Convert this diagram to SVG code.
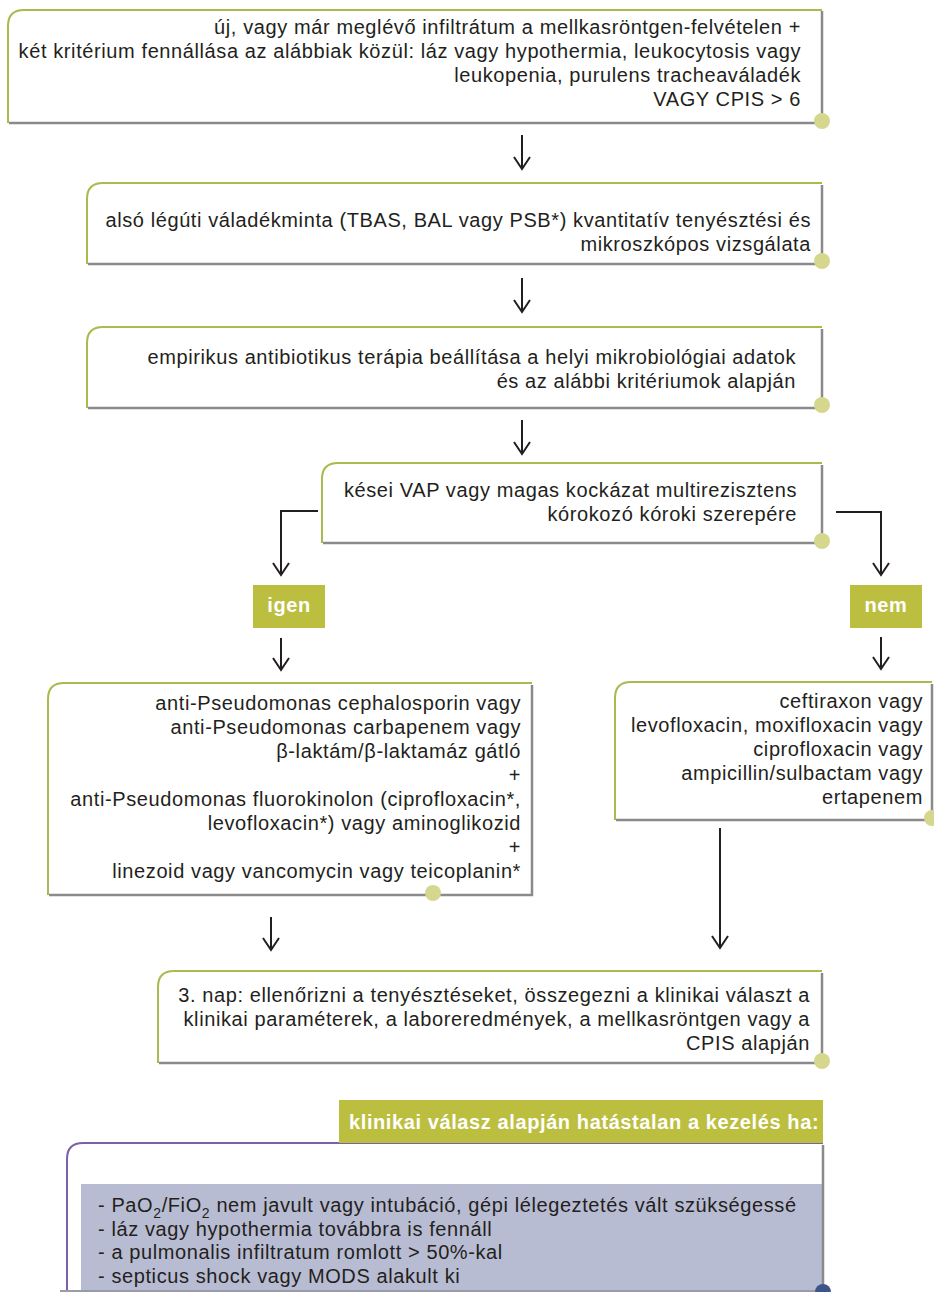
<svg xmlns="http://www.w3.org/2000/svg" width="934" height="1292" viewBox="0 0 934 1292">
<defs>
<style>
.g{fill:none;stroke:#a9bb4e;stroke-width:2}
.p{fill:none;stroke:#7d5fa8;stroke-width:2}
.s{fill:none;stroke:#8a8a8a;stroke-width:2.5}
.dot{fill:#d6d78f}
.t{font-family:"Liberation Sans",Arial,sans-serif;font-size:20px;letter-spacing:0.6px;fill:#231f20;text-anchor:end}
.tl{font-family:"Liberation Sans",Arial,sans-serif;font-size:20px;letter-spacing:0.6px;fill:#231f20}
.lab{fill:#bcbe40}
.lt{font-family:"Liberation Sans",Arial,sans-serif;font-size:20px;font-weight:bold;fill:#fff;letter-spacing:0.6px}
.c{fill:none;stroke:#231f20;stroke-width:2}
</style>
<marker id="ah" markerUnits="userSpaceOnUse" markerWidth="20" markerHeight="20" refX="0" refY="0" viewBox="-14 -10 16 20" orient="auto" overflow="visible">
<path d="M-12,-8 L0,0 L-12,8" fill="none" stroke="#231f20" stroke-width="2"/>
</marker>
</defs>
<rect width="934" height="1292" fill="#fff"/>

<g id="connectors">
<path class="c" d="M522,135 V169" marker-end="url(#ah)"/>
<path class="c" d="M522,278 V312" marker-end="url(#ah)"/>
<path class="c" d="M522,420 V454" marker-end="url(#ah)"/>
<path class="c" d="M318,511 H281 V575" marker-end="url(#ah)"/>
<path class="c" d="M836,512 H881 V575" marker-end="url(#ah)"/>
<path class="c" d="M281,638 V670" marker-end="url(#ah)"/>
<path class="c" d="M881,637 V669" marker-end="url(#ah)"/>
<path class="c" d="M271,917 V950" marker-end="url(#ah)"/>
<path class="c" d="M720,828 V948" marker-end="url(#ah)"/>
</g>

<g id="n1">
<path class="g" d="M8,123 V26 Q8,10 24,10 H822"/>
<path class="s" d="M822,11 V123 H9"/>
<circle class="dot" cx="822" cy="121" r="8"/>
<text class="t" x="801" y="34">új, vagy már meglévő infiltrátum a mellkasröntgen-felvételen +</text>
<text class="t" x="801" y="58">két kritérium fennállása az alábbiak közül: láz vagy hypothermia, leukocytosis vagy</text>
<text class="t" x="801" y="82">leukopenia, purulens tracheaváladék</text>
<text class="t" x="801" y="106">VAGY CPIS &gt; 6</text>
</g>

<g id="n2">
<path class="g" d="M87,264 V199 Q87,183 103,183 H822"/>
<path class="s" d="M822,185 V264 H88"/>
<circle class="dot" cx="822" cy="261" r="8"/>
<text class="t" x="811" y="227">alsó légúti váladékminta (TBAS, BAL vagy PSB*) kvantitatív tenyésztési és</text>
<text class="t" x="811" y="251">mikroszkópos vizsgálata</text>
</g>

<g id="n3">
<path class="g" d="M87,408 V343 Q87,327 103,327 H822"/>
<path class="s" d="M822,329 V408 H88"/>
<circle class="dot" cx="822" cy="405" r="8"/>
<text class="t" x="796" y="364">empirikus antibiotikus terápia beállítása a helyi mikrobiológiai adatok</text>
<text class="t" x="796" y="388">és az alábbi kritériumok alapján</text>
</g>

<g id="n4">
<path class="g" d="M322,543 V479 Q322,463 338,463 H822"/>
<path class="s" d="M822,465 V543 H323"/>
<circle class="dot" cx="822" cy="541" r="8"/>
<text class="t" x="797" y="497">kései VAP vagy magas kockázat multirezisztens</text>
<text class="t" x="797" y="521">kórokozó kóroki szerepére</text>
</g>

<g id="igen">
<rect class="lab" x="253" y="585" width="72" height="43"/>
<text class="lt" x="289" y="612" text-anchor="middle">igen</text>
</g>

<g id="nem">
<rect class="lab" x="850" y="585" width="72" height="43"/>
<text class="lt" x="886" y="612" text-anchor="middle">nem</text>
</g>

<g id="n5">
<path class="g" d="M48,895 V699 Q48,683 64,683 H532"/>
<path class="s" d="M532,685 V895 H49"/>
<circle class="dot" cx="433" cy="893" r="8"/>
<text class="t" x="521" y="710">anti-Pseudomonas cephalosporin vagy</text>
<text class="t" x="521" y="734">anti-Pseudomonas carbapenem vagy</text>
<text class="t" x="521" y="758">β-laktám/β-laktamáz gátló</text>
<text class="t" x="521" y="782">+</text>
<text class="t" x="521" y="806">anti-Pseudomonas fluorokinolon (ciprofloxacin*,</text>
<text class="t" x="521" y="830">levofloxacin*) vagy aminoglikozid</text>
<text class="t" x="521" y="854">+</text>
<text class="t" x="521" y="878">linezoid vagy vancomycin vagy teicoplanin*</text>
</g>

<g id="n6">
<path class="g" d="M615,820 V698 Q615,682 631,682 H932"/>
<path class="s" d="M932,684 V820 H616"/>
<circle class="dot" cx="932" cy="818" r="8"/>
<text class="t" x="923" y="708">ceftiraxon vagy</text>
<text class="t" x="923" y="732">levofloxacin, moxifloxacin vagy</text>
<text class="t" x="923" y="756">ciprofloxacin vagy</text>
<text class="t" x="923" y="780">ampicillin/sulbactam vagy</text>
<text class="t" x="923" y="804">ertapenem</text>
</g>

<g id="n7">
<path class="g" d="M158,1063 V987 Q158,971 174,971 H822"/>
<path class="s" d="M822,973 V1063 H159"/>
<circle class="dot" cx="822" cy="1061" r="8"/>
<text class="t" x="810" y="1002">3. nap: ellenőrizni a tenyésztéseket, összegezni a klinikai választ a</text>
<text class="t" x="810" y="1026">klinikai paraméterek, a laboreredmények, a mellkasröntgen vagy a</text>
<text class="t" x="810" y="1050">CPIS alapján</text>
</g>

<g id="n8">
<rect x="81" y="1184" width="741" height="110" fill="#b8bcd2"/>
<path class="p" d="M67,1292 V1159 Q67,1143 83,1143 H823"/>
<path class="s" d="M823,1145 V1292"/>
<path d="M60,1291 H823" stroke="#9a9aa8" stroke-width="2"/>
<circle cx="823" cy="1292" r="8" fill="#3e5589"/>
<text class="tl" x="98" y="1212">- PaO<tspan font-size="14" dy="6">2</tspan><tspan dy="-6">/FiO</tspan><tspan font-size="14" dy="6">2</tspan><tspan dy="-6"> nem javult vagy intubáció, gépi lélegeztetés vált szükségessé</tspan></text>
<text class="tl" x="98" y="1236">- láz vagy hypothermia továbbra is fennáll</text>
<text class="tl" x="98" y="1259">- a pulmonalis infiltratum romlott &gt; 50%-kal</text>
<text class="tl" x="98" y="1283">- septicus shock vagy MODS alakult ki</text>
</g>

<g id="header">
<rect class="lab" x="339" y="1100" width="484" height="43"/>
<text class="lt" x="349" y="1129">klinikai válasz alapján hatástalan a kezelés ha:</text>
</g>
</svg>
